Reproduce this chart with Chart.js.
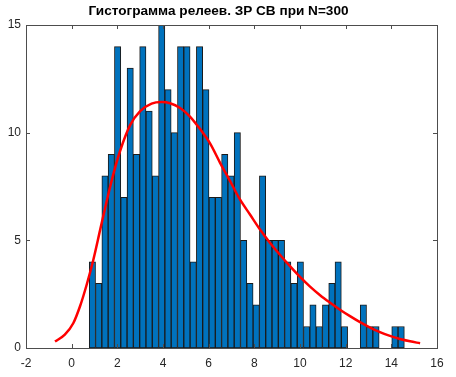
<!DOCTYPE html>
<html>
<head>
<meta charset="utf-8">
<script src="https://cdn.jsdelivr.net/npm/chart.js@4.4.1/dist/chart.umd.min.js"></script>
<style>
  html, body { margin: 0; padding: 0; background: #fff; }
  #wrap { width: 456px; height: 377px; }
</style>
</head>
<body>
<div id="wrap"><canvas id="chartHist"></canvas></div>
<script>
  /* Datos del histograma (50 clases) */
  var binStart = 0.77;
  var binWidth = 0.276;
  var counts = [4, 3, 8, 9, 14, 7, 13, 9, 14, 11, 8, 15, 12, 10, 14, 14, 4, 14, 12, 7,
                7, 9, 8, 10, 5, 3, 2, 8, 5, 5, 5, 4, 3, 4, 1, 2, 1, 2, 3, 4,
                1, 0, 0, 2, 1, 1, 0, 0, 1, 1];

  /* Curva roja */
  var curveX = [-0.73, -0.3, 0.07, 0.37, 0.66, 0.95, 1.24, 1.53, 1.82, 2.12, 2.56, 3.0, 3.5, 3.94,
                4.31, 4.75, 5.18, 5.6, 6.06, 6.5, 6.94, 7.37, 7.81, 8.25, 8.69, 9.13, 9.56, 10.0,
                10.44, 10.88, 11.32, 11.75, 12.19, 12.63, 13.07, 13.5, 13.94, 14.38, 14.82, 15.26];
  var curveY = [0.3, 0.62, 1.15, 1.95, 2.95, 4.1, 5.45, 6.8, 8.05, 9.15, 10.35, 11.0, 11.35, 11.42,
                11.37, 11.15, 10.75, 10.2, 9.5, 8.6, 7.75, 6.9, 6.2, 5.5, 4.88, 4.32, 3.8, 3.3,
                2.85, 2.45, 2.1, 1.78, 1.48, 1.2, 0.95, 0.74, 0.56, 0.42, 0.31, 0.22];

  var xTicks = [-2, 0, 2, 4, 6, 8, 10, 12, 14, 16];
  var yTicks = [0, 5, 10, 15];

  var histData = [];
  for (i = 0; i < counts.length; i++) {
    histData.push({ x: binStart + (i + 0.5) * binWidth, y: counts[i] });
  }
  var curveData = [];
  for (i = 0; i < curveX.length; i++) {
    curveData.push({ x: curveX[i], y: curveY[i] });
  }

  /* Caja y marcas hacia adentro, estilo MATLAB */
  var boxTicks = {
    id: 'boxTicks',
    afterDraw: function (chart) {
      var ctx = chart.ctx;
      var a = chart.chartArea;
      var sx = chart.scales.x, sy = chart.scales.y;
      ctx.save();
      ctx.strokeStyle = '#4d4d4d';
      ctx.lineWidth = 1;
      ctx.beginPath();
      xTicks.forEach(function (t) {
        var px = Math.round(sx.getPixelForValue(t)) + 0.5;
        ctx.moveTo(px, a.bottom); ctx.lineTo(px, a.bottom - 4);
        ctx.moveTo(px, a.top); ctx.lineTo(px, a.top + 4);
      });
      yTicks.forEach(function (t) {
        var py = Math.round(sy.getPixelForValue(t)) + 0.5;
        ctx.moveTo(a.left, py); ctx.lineTo(a.left + 4, py);
        ctx.moveTo(a.right, py); ctx.lineTo(a.right - 4, py);
      });
      ctx.stroke();
      ctx.strokeRect(Math.round(a.left) + 0.5, Math.round(a.top) + 0.5,
                     Math.round(a.right - a.left), Math.round(a.bottom - a.top));
      ctx.restore();
    }
  };

  const cmc = document.getElementById('chartHist');
  var chartHist = new Chart(cmc, {
    type: 'bar',
    plugins: [boxTicks],
    data: {
      datasets: [
        {
          type: 'line',
          data: curveData,
          borderColor: '#ff0000',
          borderWidth: 2.5,
          pointRadius: 0,
          cubicInterpolationMode: 'monotone',
          fill: false,
          order: 0,
        },
        {
          type: 'bar',
          data: histData,
          backgroundColor: '#0072bd',
          borderColor: '#1a1a1a',
          borderWidth: 1,
          borderSkipped: false,
          barPercentage: 1,
          categoryPercentage: 1,
          order: 1,
        },
      ],
    },
    options: {
      responsive: true,
      maintainAspectRatio: false,
      animation: false,
      layout: { padding: { left: 0, right: 19, top: 0, bottom: 0 } },
      scales: {
        x: {
          type: 'linear',
          offset: false,
          min: -2,
          max: 16,
          grid: { display: false, drawTicks: false, offset: false },
          border: { display: false },
          afterBuildTicks: function (scale) {
            scale.ticks = xTicks.map(function (v) { return { value: v }; });
          },
          afterFit: function (scale) { scale.height = 29; },
          ticks: {
            padding: 8,
            color: '#262626',
            font: { family: 'Liberation Sans, Arial, sans-serif', size: 12 },
            maxRotation: 0,
          },
        },
        y: {
          min: 0,
          max: 15,
          grid: { display: false, drawTicks: false },
          border: { display: false },
          afterBuildTicks: function (scale) {
            scale.ticks = yTicks.map(function (v) { return { value: v }; });
          },
          afterFit: function (scale) { scale.width = 26; },
          ticks: {
            padding: 5,
            color: '#262626',
            font: { family: 'Liberation Sans, Arial, sans-serif', size: 12 },
          },
        },
      },
      plugins: {
        legend: { display: false },
        tooltip: { enabled: false },
        title: {
          display: true,
          text: 'Гистограмма релеев. ЗР СВ при N=300',
          color: '#000000',
          font: { family: 'Liberation Sans, Arial, sans-serif', size: 13.6, weight: 'bold' },
          padding: { top: 3, bottom: 5.7 },
        },
      },
    },
  });
</script>
</body>
</html>
